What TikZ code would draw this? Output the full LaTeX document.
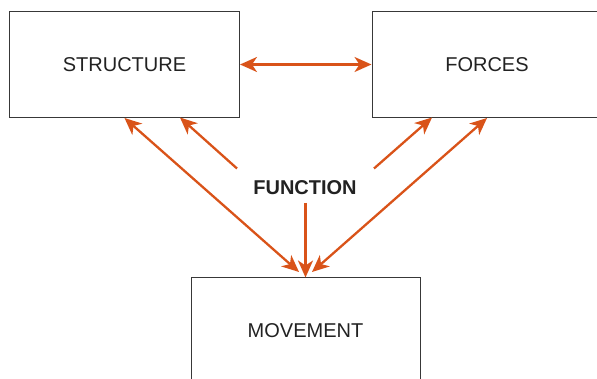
\documentclass[tikz,border=0pt]{standalone}
\usepackage{fontspec}
\setmainfont{Liberation Sans}
\usetikzlibrary{arrows.meta}
\definecolor{arr}{RGB}{217,83,25}
\definecolor{txt}{RGB}{34,34,34}
\begin{document}
\begin{tikzpicture}[x=1pt,y=-1pt,
  tip/.tip={Stealth[length=17pt,width=15pt,inset=5pt]},
  box/.style={draw=txt!90,line width=1pt,minimum width=230pt,minimum height=106pt,inner sep=0pt,text=txt,font=\fontsize{20}{24}\selectfont},
  conn/.style={draw=arr,line width=2.3pt,-tip},
  dconn/.style={conn,tip-tip}]
\clip (0,0) rectangle (597,379);
\useasboundingbox (0,0) rectangle (597,379);
\node[box] (s) at (124.5,64.5) {STRUCTURE};
\node[box] (f) at (487,64.5) {FORCES};
\node[box,minimum width=229pt] (m) at (305.5,331) {MOVEMENT};
\node[text=txt,font=\fontsize{20}{24}\selectfont\bfseries,inner sep=0pt] (fn) at (305,188) {FUNCTION};
\coordinate (s1) at (180,117.5);
\coordinate (f1) at (432,117.5);
\coordinate (t1) at (237,168.5);
\coordinate (t2) at (374,168.5);
\coordinate (ml) at (299,272);
\coordinate (mr) at (312,272);
\coordinate (mt) at (305.5,203);
\draw[dconn] (s.east) -- (f.west);
\draw[conn] (t1) -- (s1);
\draw[conn] (t2) -- (f1);
\draw[dconn] (s.south) -- (ml);
\draw[dconn] (f.south) -- (mr);
\draw[conn] (mt) -- (m.north);
\end{tikzpicture}
\end{document}
